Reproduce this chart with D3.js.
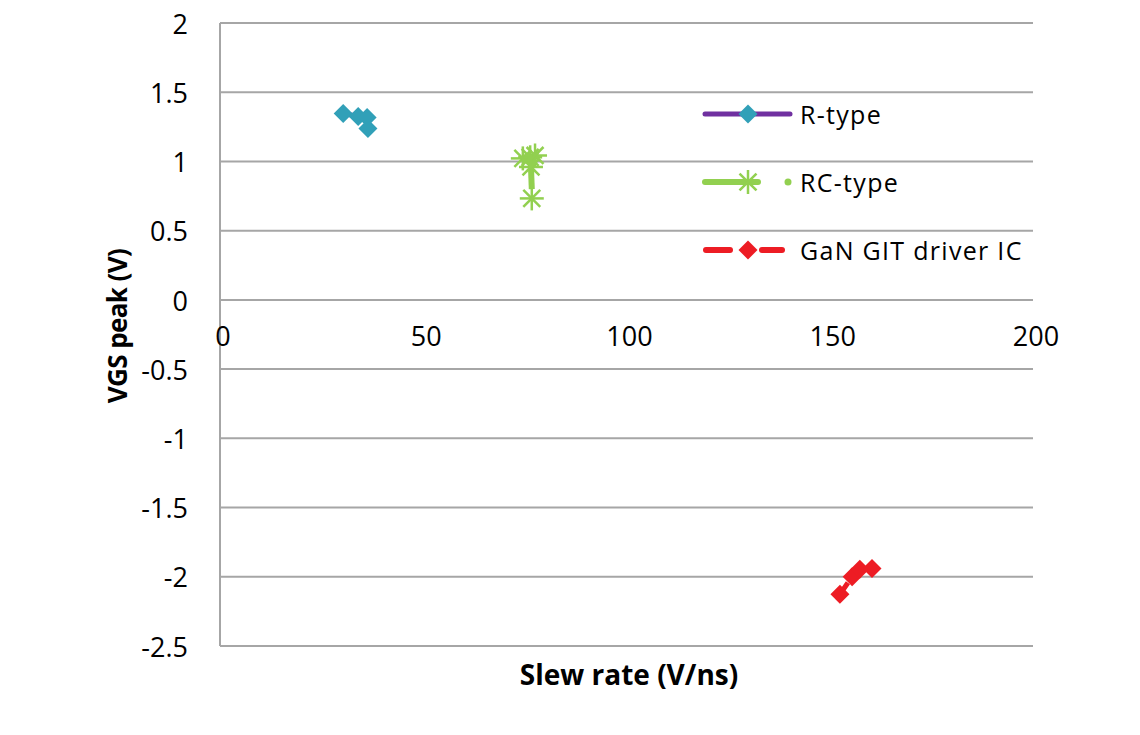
<!DOCTYPE html>
<html>
<head>
<meta charset="utf-8">
<script src="https://cdn.jsdelivr.net/npm/d3@7"></script>
<style>
  body { margin: 0; background: #fff; }
  svg { font-family: "Open Sans", "Noto Sans", sans-serif; }
</style>
</head>
<body>
<div id="chart"></div>
<script>
const width = 1140
const height = 735

// data
const rTypeX = [30.3, 34.0, 36.2, 36.4]
const rTypeY = [1.347, 1.325, 1.318, 1.238]
const rcTypeX = [74.5, 76.3, 77.5, 76.5, 76.7]
const rcTypeY = [1.022, 1.03, 1.043, 0.96, 0.733]
const ganX = [152.5, 155.5, 157.4, 160.4]
const ganY = [-2.126, -2.0, -1.946, -1.94]
const xTicks = [0, 50, 100, 150, 200]
const yTicks = [2, 1.5, 1, 0.5, 0, -0.5, -1, -1.5, -2, -2.5]
const seriesNames = ['R-type', 'RC-type', 'GaN GIT driver IC']

const margin = { top: 23, right: 107, bottom: 89, left: 220 }

const svg = d3.select('#chart')
    .append('svg')
    .attr('width', width)
    .attr('height', height)

const x = d3.scaleLinear().domain([0, 200]).range([margin.left, width - margin.right])
const y = d3.scaleLinear().domain([-2.5, 2]).range([height - margin.bottom, margin.top])

const gridColor = '#a6a6a6'

// horizontal grid
svg.append('g')
    .selectAll('line')
    .data(yTicks)
    .enter()
    .append('line')
    .attr('x1', x(0))
    .attr('x2', x(200))
    .attr('y1', d => y(d))
    .attr('y2', d => y(d))
    .attr('stroke', gridColor)
    .attr('stroke-width', 2)

// vertical axis line
svg.append('line')
    .attr('x1', x(0))
    .attr('x2', x(0))
    .attr('y1', y(2))
    .attr('y2', y(-2.5))
    .attr('stroke', gridColor)
    .attr('stroke-width', 2)

// y tick labels
svg.append('g')
    .selectAll('text')
    .data(yTicks)
    .enter()
    .append('text')
    .attr('x', x(0) - 32)
    .attr('y', d => y(d) + 1)
    .attr('dy', '0.36em')
    .attr('text-anchor', 'end')
    .attr('font-size', 27)
    .attr('fill', '#000')
    .text(d => d)

// x tick labels, sitting under the zero line
svg.append('g')
    .selectAll('text')
    .data(xTicks)
    .enter()
    .append('text')
    .attr('x', d => x(d) + 3)
    .attr('y', y(0) + 46)
    .attr('text-anchor', 'middle')
    .attr('font-size', 27)
    .attr('fill', '#000')
    .text(d => d)

// axis titles
svg.append('text')
    .attr('x', 629)
    .attr('y', 685)
    .attr('text-anchor', 'middle')
    .attr('font-size', 28)
    .attr('font-weight', 'bold')
    .text('Slew rate (V/ns)')

svg.append('text')
    .attr('transform', 'translate(127,326) rotate(-90)')
    .attr('text-anchor', 'middle')
    .attr('font-size', 26)
    .attr('font-weight', 'bold')
    .attr('letter-spacing', -0.6)
    .text('VGS peak (V)')

const line = d3.line().x(d => x(d[0])).y(d => y(d[1]))
const diamond = d3.symbol().type(d3.symbolDiamond2).size(230)

function star(g, size, color) {
    const r = size
    for (let a = 0; a < 4; a++) {
        const ang = a * Math.PI / 4
        g.append('line')
            .attr('x1', -r * Math.cos(ang))
            .attr('y1', -r * Math.sin(ang))
            .attr('x2', r * Math.cos(ang))
            .attr('y2', r * Math.sin(ang))
            .attr('stroke', color)
            .attr('stroke-width', 2.5)
    }
}

const rData = d3.zip(rTypeX, rTypeY)
const rcData = d3.zip(rcTypeX, rcTypeY)
const ganData = d3.zip(ganX, ganY)

// R-type
svg.append('path')
    .attr('d', line(rData))
    .attr('fill', 'none')
    .attr('stroke', '#7030a0')
    .attr('stroke-width', 5)
svg.append('g')
    .selectAll('path')
    .data(rData)
    .enter()
    .append('path')
    .attr('d', diamond)
    .attr('transform', d => `translate(${x(d[0])},${y(d[1])})`)
    .attr('fill', '#31a0b8')

// RC-type
svg.append('path')
    .attr('d', line(rcData.slice(0, 4)) )
    .attr('fill', 'none')
    .attr('stroke', '#92d050')
    .attr('stroke-width', 6)
svg.append('path')
    .attr('d', line(rcData.slice(3, 5).map((d, i) => i ? [d[0], 0.8] : d)))
    .attr('fill', 'none')
    .attr('stroke', '#92d050')
    .attr('stroke-width', 6)
svg.append('g')
    .selectAll('g')
    .data(rcData)
    .enter()
    .append('g')
    .attr('transform', d => `translate(${x(d[0])},${y(d[1])})`)
    .each(function() { star(d3.select(this), 12, '#92d050') })

// GaN GIT driver IC
svg.append('path')
    .attr('d', line(ganData))
    .attr('fill', 'none')
    .attr('stroke', '#ed1c24')
    .attr('stroke-width', 5)
    .attr('stroke-dasharray', '14,6')
svg.append('g')
    .selectAll('path')
    .data(ganData)
    .enter()
    .append('path')
    .attr('d', diamond)
    .attr('transform', d => `translate(${x(d[0])},${y(d[1])})`)
    .attr('fill', '#ed1c24')

// legend
const legend = svg.append('g')
const legendY = [114, 182, 250]

legend.append('line')
    .attr('x1', 705).attr('x2', 790)
    .attr('y1', legendY[0]).attr('y2', legendY[0])
    .attr('stroke', '#7030a0').attr('stroke-width', 5).attr('stroke-linecap', 'round')
legend.append('path')
    .attr('d', diamond)
    .attr('transform', `translate(748,${legendY[0]})`)
    .attr('fill', '#31a0b8')

legend.append('line')
    .attr('x1', 705).attr('x2', 758)
    .attr('y1', legendY[1]).attr('y2', legendY[1])
    .attr('stroke', '#92d050').attr('stroke-width', 6).attr('stroke-linecap', 'round')
const ls = legend.append('g').attr('transform', `translate(748,${legendY[1]})`)
star(ls, 12, '#92d050')
legend.append('circle')
    .attr('cx', 788).attr('cy', legendY[1]).attr('r', 3.5)
    .attr('fill', '#92d050')

legend.append('line')
    .attr('x1', 706).attr('x2', 730)
    .attr('y1', legendY[2]).attr('y2', legendY[2])
    .attr('stroke', '#ed1c24').attr('stroke-width', 6).attr('stroke-linecap', 'round')
legend.append('line')
    .attr('x1', 762).attr('x2', 782)
    .attr('y1', legendY[2]).attr('y2', legendY[2])
    .attr('stroke', '#ed1c24').attr('stroke-width', 6).attr('stroke-linecap', 'round')
legend.append('path')
    .attr('d', diamond)
    .attr('transform', `translate(748,${legendY[2]})`)
    .attr('fill', '#ed1c24')

legend.selectAll('text.legend-label')
    .data(seriesNames)
    .enter()
    .append('text')
    .attr('class', 'legend-label')
    .attr('x', 800)
    .attr('y', (d, i) => legendY[i] + 1)
    .attr('dy', '0.36em')
    .attr('font-size', 25)
    .attr('letter-spacing', 1.3)
    .text(d => d)
</script>
</body>
</html>
